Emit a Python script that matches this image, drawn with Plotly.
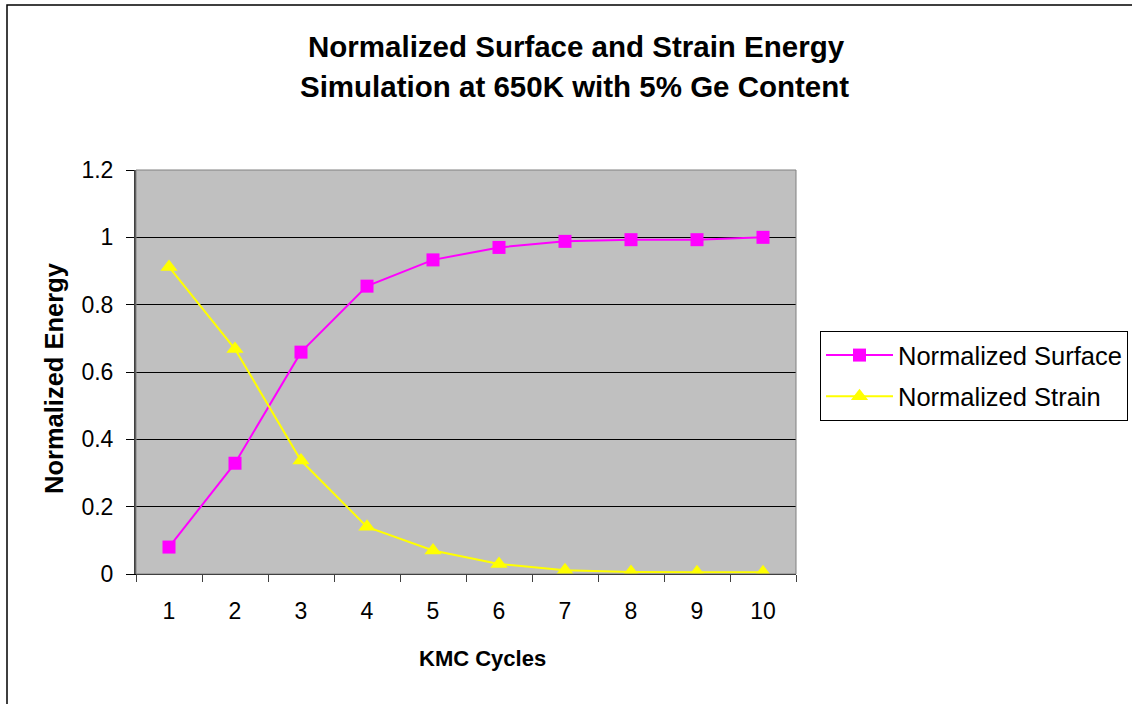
import plotly.graph_objects as go

cycles = ["1", "2", "3", "4", "5", "6", "7", "8", "9", "10"]
surface = [0.080, 0.329, 0.659, 0.855, 0.933, 0.970, 0.988, 0.993, 0.993, 1.000]
strain = [0.912, 0.668, 0.337, 0.140, 0.070, 0.030, 0.011, 0.006, 0.005, 0.005]

title_lines = ["Normalized Surface and Strain Energy", "Simulation at 650K with 5% Ge Content"]
x_title = "KMC Cycles"
y_title = "Normalized Energy"

FONT = "Liberation Sans, Arial, sans-serif"

fig = go.Figure()
fig.add_trace(go.Scatter(
    x=cycles, y=surface, mode="lines+markers", name="Normalized Surface",
    line=dict(color="#FF00FF", width=2),
    marker=dict(symbol="square", size=13, color="#FF00FF"),
    legendgroup="a",
))
fig.add_trace(go.Scatter(
    x=cycles, y=strain, mode="lines+markers", name="Normalized Strain",
    line=dict(color="#FFFF00", width=2),
    marker=dict(symbol="triangle-up", size=15, color="#FFFF00"),
    legendgroup="b",
))

L, R, T, B = 136, 1132 - 796, 170, 704 - 574
PW, PH = 660, 404

def px(xp):
    return (xp - L) / PW

def py(yp):
    return (574 - yp) / PH

fig.update_layout(
    width=1132, height=704, autosize=False,
    margin=dict(l=L, r=R, t=T, b=B, pad=0, autoexpand=False),
    paper_bgcolor="white", plot_bgcolor="#C0C0C0",
    font=dict(family=FONT, size=23, color="black"),
    showlegend=True,
    legend=dict(
        x=px(820), y=py(331), xanchor="left", yanchor="top",
        bgcolor="white", bordercolor="black", borderwidth=1,
        font=dict(family=FONT, size=25.5, color="black"),
        traceorder="grouped", tracegroupgap=5,
        itemwidth=67,
    ),
    xaxis=dict(
        type="category", categoryorder="array", categoryarray=cycles,
        range=[-0.5, 9.5],
        tickson="boundaries", ticks="outside", ticklen=7, tickcolor="#404040",
        showline=True, linecolor="black", linewidth=1,
        showgrid=False, zeroline=False,
        tickfont=dict(family=FONT, size=23, color="black"),
        ticklabelstandoff=16,
    ),
    yaxis=dict(
        range=[0, 1.2], dtick=0.2, tick0=0,
        ticks="outside", ticklen=8, tickcolor="black",
        showline=True, linecolor="#404040", linewidth=2,
        showgrid=True, gridcolor="black", gridwidth=1,
        zeroline=False,
        tickfont=dict(family=FONT, size=23, color="black"),
        ticklabelstandoff=8,
    ),
)

# plot area border (top/right gray)
fig.add_shape(type="rect", xref="paper", yref="paper", x0=0, x1=1, y0=0, y1=1,
              line=dict(color="#808080", width=1), layer="above")
# outer chart border
fig.add_shape(type="rect", xref="paper", yref="paper",
              x0=px(7), x1=px(1145), y0=py(715), y1=py(5),
              line=dict(color="black", width=1.5), layer="above")

# title lines
fig.add_annotation(text="<b>%s</b>" % title_lines[0], xref="paper", yref="paper",
                   x=px(576), y=py(47), xanchor="center", yanchor="middle",
                   showarrow=False, font=dict(family=FONT, size=29.5, color="black"))
fig.add_annotation(text="<b>%s</b>" % title_lines[1], xref="paper", yref="paper",
                   x=px(574), y=py(86), xanchor="center", yanchor="middle",
                   showarrow=False, font=dict(family=FONT, size=29.5, color="black"))
# axis titles
fig.add_annotation(text="<b>%s</b>" % x_title, xref="paper", yref="paper",
                   x=px(482), y=py(658), xanchor="center", yanchor="middle",
                   showarrow=False, font=dict(family=FONT, size=22, color="black"))
fig.add_annotation(text="<b>%s</b>" % y_title, xref="paper", yref="paper",
                   x=px(54), y=py(378), xanchor="center", yanchor="middle",
                   textangle=-90,
                   showarrow=False, font=dict(family=FONT, size=25.5, color="black"))

fig.write_html("out.html")
